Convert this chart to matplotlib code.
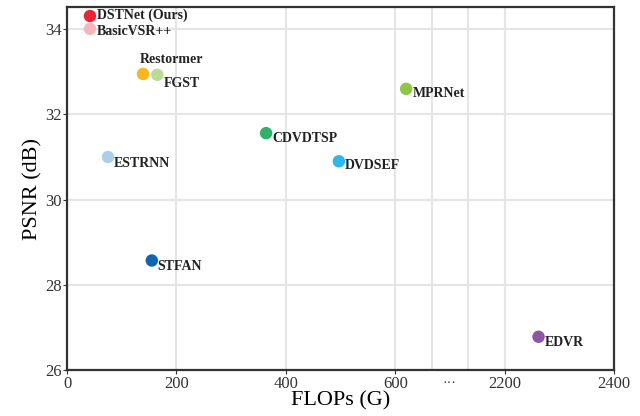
import matplotlib
matplotlib.use("Agg")
import matplotlib.pyplot as plt

plt.rcParams['font.family'] = ['Liberation Serif', 'DejaVu Serif']

# data (FLOPs in G, PSNR in dB)
methods = ['DSTNet (Ours)', 'BasicVSR++', 'Restormer', 'FGST', 'MPRNet',
           'CDVDTSP', 'ESTRNN', 'DVDSEF', 'STFAN', 'EDVR']
flops = [42, 42, 139, 165, 620, 364, 75, 497, 155, 2262]
psnr = [34.31, 34.01, 32.95, 32.93, 32.60, 31.56, 31.00, 30.90, 28.57, 26.78]
colors = ['#ee2233', '#f7b4ba', '#fbb518', '#b9db92', '#8dc641',
          '#2eb26a', '#aacfea', '#2ab8ef', '#0b67b5', '#8c55a6']
# label offsets in pixels (dx, dy) from the point
offs = [(7, 1), (7, -3), (-3, 14), (7, -9), (7, -5),
        (6, -5), (6, -6), (6, -4), (6, -6), (6, -6)]

xticks = [0, 200, 400, 600, 2200, 2400]

# broken x axis: values >= 2200 are shifted left
shift = 1400


def fx(v):
    return v - shift if v >= 2200 else v


fig = plt.figure(figsize=(6.4, 4.16), dpi=100)
ax = fig.add_axes([0.1047, 0.1106, 0.8547, 0.8724])

xs = [fx(v) for v in flops]
ax.scatter(xs, psnr, s=80, c=colors, edgecolors='none', zorder=3)
for m, x, y, (dx, dy) in zip(methods, xs, psnr, offs):
    ax.annotate(m, (x, y), xytext=(dx * 0.72, dy * 0.72), textcoords='offset points',
                fontsize=10, fontweight='bold', color='#222222', ha='left', va='center')

ax.set_xlim(0, 1000)
ax.set_ylim(26, 34.52)
ax.set_xticks([fx(v) for v in xticks])
ax.set_xticklabels([str(v) for v in xticks])
ax.set_xticks([667, 733], minor=True)
ax.set_yticks([26, 28, 30, 32, 34])
ax.text(700, 25.68, '···', ha='center', va='center', fontsize=10, color='#333333')

ax.grid(True, which='both', color='#e5e5e5', linewidth=1.5, zorder=0)
ax.set_axisbelow(True)
ax.tick_params(which='major', labelsize=12, length=3, width=0.8, pad=1, colors='#333333')
ax.tick_params(which='minor', length=0)
for sp in ax.spines.values():
    sp.set_linewidth(1.6)
    sp.set_color('#333333')

ax.set_xlabel('FLOPs (G)', fontsize=16, labelpad=0)
ax.set_ylabel('PSNR (dB)', fontsize=16, labelpad=2)

fig.savefig('out.png', dpi=100)
